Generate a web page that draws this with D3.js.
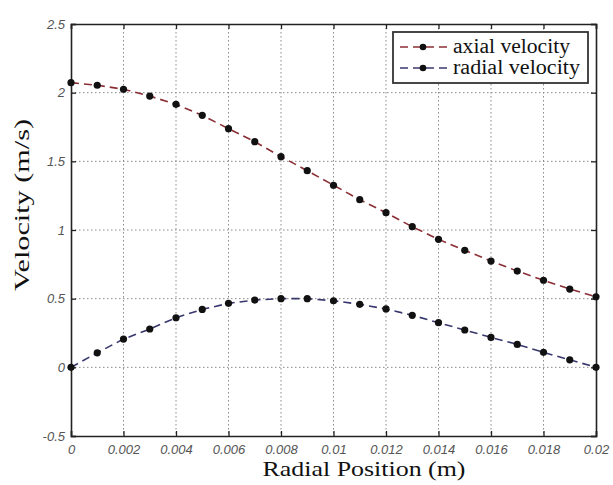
<!DOCTYPE html>
<html><head><meta charset="utf-8">
<script src="https://cdn.jsdelivr.net/npm/d3@7"></script>
<style>body{margin:0;background:#fff;}svg{display:block;} .ser{font-family:"Liberation Serif","Times New Roman",serif;}</style>
</head><body>
<svg id="c" width="613" height="485"></svg>
<script>
const positions = [0,0.001,0.002,0.003,0.004,0.005,0.006,0.007,0.008,0.009,0.010,0.011,0.012,0.013,0.014,0.015,0.016,0.017,0.018,0.019,0.020];
const axialVelocity = [2.073,2.054,2.025,1.975,1.915,1.835,1.738,1.643,1.534,1.432,1.326,1.221,1.126,1.024,0.932,0.852,0.774,0.701,0.634,0.570,0.514];
const radialVelocity = [0,0.106,0.206,0.279,0.361,0.422,0.466,0.490,0.500,0.500,0.485,0.459,0.425,0.379,0.325,0.272,0.218,0.167,0.109,0.055,0];
const xTicks = [0,0.002,0.004,0.006,0.008,0.01,0.012,0.014,0.016,0.018,0.02];
const xTickLabels = ["0","0.002","0.004","0.006","0.008","0.01","0.012","0.014","0.016","0.018","0.02"];
const yTicks = [-0.5,0,0.5,1,1.5,2,2.5];
const yTickLabels = ["-0.5","0","0.5","1","1.5","2","2.5"];
const seriesNames = ["axial velocity","radial velocity"];
const seriesColors = ["#8a2f35","#38386e"];

const svg = d3.select("#c");
const L=71, R=596, T=24, B=436;
const x = d3.scaleLinear().domain([0,0.02]).range([L,R]);
const y = d3.scaleLinear().domain([-0.5,2.5]).range([B,T]);

// grid
const g = svg.append("g");
g.selectAll(".vg").data(xTicks.slice(1,-1)).enter().append("line")
  .attr("x1",d=>x(d)).attr("x2",d=>x(d)).attr("y1",T).attr("y2",B)
  .attr("stroke","#8a8a8a").attr("stroke-width",1).attr("stroke-dasharray","1.5,2.5");
g.selectAll(".hg").data(yTicks.slice(1,-1)).enter().append("line")
  .attr("y1",d=>y(d)).attr("y2",d=>y(d)).attr("x1",L).attr("x2",R)
  .attr("stroke","#8a8a8a").attr("stroke-width",1).attr("stroke-dasharray","1.5,2.5");

// axes
const xb = svg.append("g").attr("transform",`translate(0,${B})`)
  .call(d3.axisBottom(x).tickValues(xTicks).tickFormat((d,i)=>xTickLabels[i]).tickSize(-5).tickPadding(9));
const xt = svg.append("g").attr("transform",`translate(0,${T})`)
  .call(d3.axisTop(x).tickValues(xTicks).tickFormat("").tickSize(-5));
const yl = svg.append("g").attr("transform",`translate(${L},0)`)
  .call(d3.axisLeft(y).tickValues(yTicks).tickFormat((d,i)=>yTickLabels[i]).tickSize(-5).tickPadding(6));
const yr = svg.append("g").attr("transform",`translate(${R},0)`)
  .call(d3.axisRight(y).tickValues(yTicks).tickFormat("").tickSize(-5));
[xb,xt,yl,yr].forEach(a=>{
  a.select(".domain").attr("stroke","#222").attr("stroke-width",1.6);
  a.selectAll(".tick line").attr("stroke","#222").attr("stroke-width",1.3);
  a.selectAll(".tick text").attr("fill","#555").attr("font-family","Liberation Sans, Arial, sans-serif")
    .attr("font-style","italic").attr("font-size","13px");
});

// series
const data = [axialVelocity, radialVelocity];
const line = d3.line().x((d,i)=>x(positions[i])).y(d=>y(d));
data.forEach((vals,k)=>{
  svg.append("path").datum(vals).attr("d",line).attr("fill","none")
    .attr("stroke",seriesColors[k]).attr("stroke-width",1.6).attr("stroke-dasharray","8,5");
  svg.selectAll(".pt"+k).data(vals).enter().append("circle")
    .attr("cx",(d,i)=>x(positions[i])).attr("cy",d=>y(d)).attr("r",3.6).attr("fill","#111");
});

// legend
const lg = svg.append("g");
lg.append("rect").attr("x",393).attr("y",32).attr("width",195).attr("height",51)
  .attr("fill","#fff").attr("stroke","#333").attr("stroke-width",1.8);
seriesNames.forEach((name,k)=>{
  const ly = 47 + k*21;
  lg.append("line").attr("x1",400).attr("x2",448).attr("y1",ly).attr("y2",ly)
    .attr("stroke",seriesColors[k]).attr("stroke-width",1.6).attr("stroke-dasharray","8,5");
  lg.append("circle").attr("cx",423).attr("cy",ly).attr("r",3.3).attr("fill","#111");
  lg.append("text").attr("class","ser").attr("x",453).attr("y",ly+6).text(name)
    .attr("font-size","20px").attr("fill","#111")
    .attr("textLength", k===0 ? 117 : 127).attr("lengthAdjust","spacingAndGlyphs");
});

// axis titles
svg.append("text").attr("class","ser").attr("x",364).attr("y",476).attr("text-anchor","middle")
  .attr("font-size","21px").attr("fill","#111")
  .attr("textLength",203).attr("lengthAdjust","spacingAndGlyphs")
  .text("Radial Position (m)");
svg.append("text").attr("class","ser").attr("transform","translate(29,205) rotate(-90)").attr("text-anchor","middle")
  .attr("font-size","21px").attr("fill","#111")
  .attr("textLength",172).attr("lengthAdjust","spacingAndGlyphs")
  .text("Velocity (m/s)");
</script>
</body></html>
